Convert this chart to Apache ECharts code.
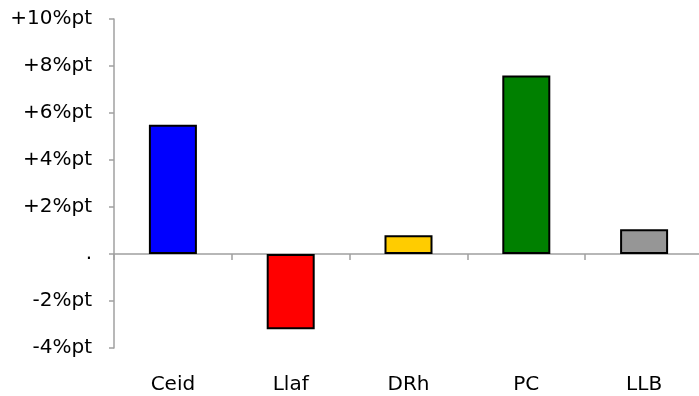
<!DOCTYPE html>
<html>
<head>
<meta charset="utf-8">
<script src="https://cdn.jsdelivr.net/npm/echarts@6/dist/echarts.min.js"></script>
<style>html,body{margin:0;padding:0;background:#fff}#c{width:699px;height:396px}</style>
</head>
<body>
<div id="c"></div>
<script>
var categories = ['Ceid', 'Llaf', 'DRh', 'PC', 'LLB'];
var values = [5.5, -3.2, 0.8, 7.6, 1.05];
var barColors = ['#0000FF', '#FF0000', '#FFCC00', '#008000', '#969696'];
var yTickLabels = {'-4': '-4%pt', '-2': '-2%pt', '0': '.', '2': '+2%pt', '4': '+4%pt', '6': '+6%pt', '8': '+8%pt', '10': '+10%pt'};

var chart = echarts.init(document.getElementById('c'), null, {renderer: 'canvas'});
var font = "'DejaVu Sans'";
chart.setOption({
  animation: false,
  backgroundColor: '#ffffff',
  grid: {left: 114, top: 19, width: 589, height: 329, containLabel: false, outerBoundsMode: 'none'},
  xAxis: [{
    type: 'category',
    data: categories,
    axisLine: {onZero: true, lineStyle: {color: '#a0a0a0', width: 1.5}},
    axisTick: {show: true, length: 6, inside: false, lineStyle: {color: '#a0a0a0', width: 1.5}},
    axisLabel: {show: false},
    splitLine: {show: false}
  }, {
    type: 'category',
    data: categories,
    position: 'bottom',
    axisLine: {show: false, onZero: false},
    axisTick: {show: false},
    axisLabel: {show: true, margin: 27, color: '#000', fontFamily: font, fontSize: 20},
    splitLine: {show: false}
  }],
  yAxis: {
    type: 'value',
    min: -4, max: 10, interval: 2,
    axisLine: {show: true, lineStyle: {color: '#a0a0a0', width: 1.5}},
    axisTick: {show: true, length: 5, lineStyle: {color: '#a0a0a0', width: 1.5}},
    axisLabel: {
      margin: 22, color: '#000', fontFamily: font, fontSize: 20,
      formatter: function (v) { return yTickLabels[String(v)]; }
    },
    splitLine: {show: false}
  },
  series: [{
    type: 'bar',
    xAxisIndex: 0,
    barWidth: 48,
    data: values.map(function (v, i) {
      return {value: v, itemStyle: {color: barColors[i], borderColor: '#000', borderWidth: 2}};
    })
  }]
});
</script>
</body>
</html>
